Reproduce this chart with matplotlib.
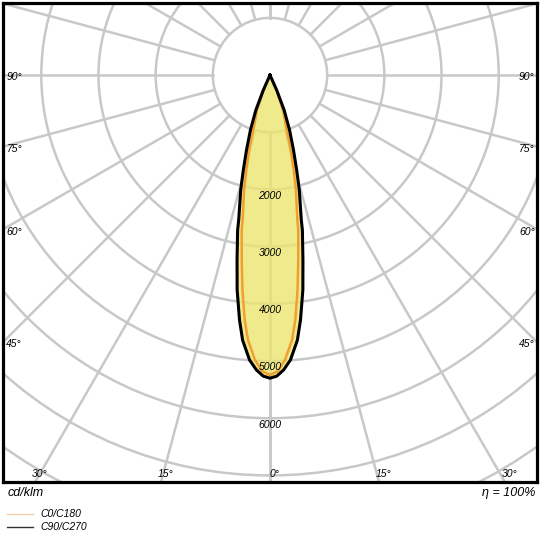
import numpy as np
import matplotlib
matplotlib.use("Agg")
import matplotlib.pyplot as plt
from matplotlib.patches import Circle

plt.rcParams['font.family'] = ['Liberation Sans', 'DejaVu Sans']

# intensity curves, cd/klm, angle from nadir in degrees (symmetric)
ang_c0 = [0, 1.5, 3.0, 4.75, 5.9, 7.3, 8.7, 10.35, 10.7, 12.7, 14.0, 15.5, 16.9, 20.4, 23, 25]
c0_c180 = [5245, 5180, 4990, 4650, 4305, 3790, 3270, 2755, 2580, 2060, 1710, 1360, 1005, 650, 280, 0]
ang_c90 = [0, 1.3, 2.65, 4.1, 5.9, 7.1, 8.7, 10.1, 11.8, 12.2, 14.3, 15.7, 17.4, 19.6, 22, 24, 26]
c90_c270 = [5300, 5265, 5160, 4995, 4660, 4315, 3800, 3285, 2770, 2590, 2075, 1725, 1375, 1020, 660, 290, 0]

aneis = [1000, 2000, 3000, 4000, 5000, 6000, 7000, 8000, 9000]
rotulos_aneis = [2000, 3000, 4000, 5000, 6000]
raios_ang = list(range(0, 181, 15))
rotulos_lado = [90, 75, 60, 45]
rotulos_baixo = [-30, -15, 0, 15, 30]

XL, XR, YB, YT = -4670, 4670, -7115, 1260


def curva(ang, val):
    a = np.radians(np.array(ang, dtype=float))
    v = np.array(val, dtype=float)
    a = np.concatenate([-a[::-1], a[1:]])
    v = np.concatenate([v[::-1], v[1:]])
    return v * np.sin(a), -v * np.cos(a)


fig = plt.figure(figsize=(5.4, 5.4), dpi=100)
ax = fig.add_axes([3 / 540, 58 / 540, 534 / 540, 479 / 540])
ax.set_xlim(XL, XR)
ax.set_ylim(YB, YT)
ax.set_xticks([])
ax.set_yticks([])
for s in ax.spines.values():
    s.set_linewidth(2.3)
    s.set_color('black')
    s.set_zorder(10)

cinza = '#c8c8c8'
for r in aneis:
    ax.add_patch(Circle((0, 0), r, fill=False, ec=cinza, lw=1.8, zorder=1))
for a in raios_ang:
    t = np.radians(a)
    for sx in (1, -1):
        ax.plot([sx * 1000 * np.sin(t), sx * 12000 * np.sin(t)],
                [-1000 * np.cos(t), -12000 * np.cos(t)], color=cinza, lw=1.8, zorder=1)

x90, y90 = curva(ang_c90, c90_c270)
x0, y0 = curva(ang_c0, c0_c180)
ax.fill(x90, y90, color='#ece56f', alpha=0.8, lw=0, zorder=2)
ax.plot(x0, y0, color='#f0a030', lw=1.8, zorder=3, solid_joinstyle='round')
ax.plot(x90, y90, color='black', lw=2.2, zorder=4, solid_joinstyle='round')

fs = 7.5
for r in rotulos_aneis:
    ax.text(0, -r - 110, str(r), ha='center', va='center', fontsize=fs, style='italic', zorder=5)

for a in rotulos_lado:
    y = XL / np.tan(np.radians(a)) if a != 90 else 0
    ax.text(XL + 60, y - 40, f"{a}°", ha='left', va='center', fontsize=fs, style='italic', zorder=5)
    ax.text(XR - 40, y - 40, f"{a}°", ha='right', va='center', fontsize=fs, style='italic', zorder=5)

for a in rotulos_baixo:
    x = -YB * np.tan(np.radians(a))
    ax.text(x + 80, YB + 60, f"{abs(a)}°", ha='center', va='bottom', fontsize=fs, style='italic', zorder=5)

fig.text(8 / 540, 1 - 493 / 540, 'cd/klm', ha='left', va='center', fontsize=9, style='italic')
fig.text(535 / 540, 1 - 493 / 540, 'η = 100%', ha='right', va='center', fontsize=9, style='italic')

fig.lines.append(plt.Line2D([7 / 540, 33 / 540], [1 - 514 / 540] * 2, transform=fig.transFigure,
                            color='#f2cfa6', lw=1.0))
fig.lines.append(plt.Line2D([7 / 540, 33 / 540], [1 - 527 / 540] * 2, transform=fig.transFigure,
                            color='#333333', lw=1.0))
fig.text(40 / 540, 1 - 514 / 540, 'C0/C180', ha='left', va='center', fontsize=7.5, style='italic')
fig.text(40 / 540, 1 - 527 / 540, 'C90/C270', ha='left', va='center', fontsize=7.5, style='italic')

fig.savefig('out.png', dpi=100)
